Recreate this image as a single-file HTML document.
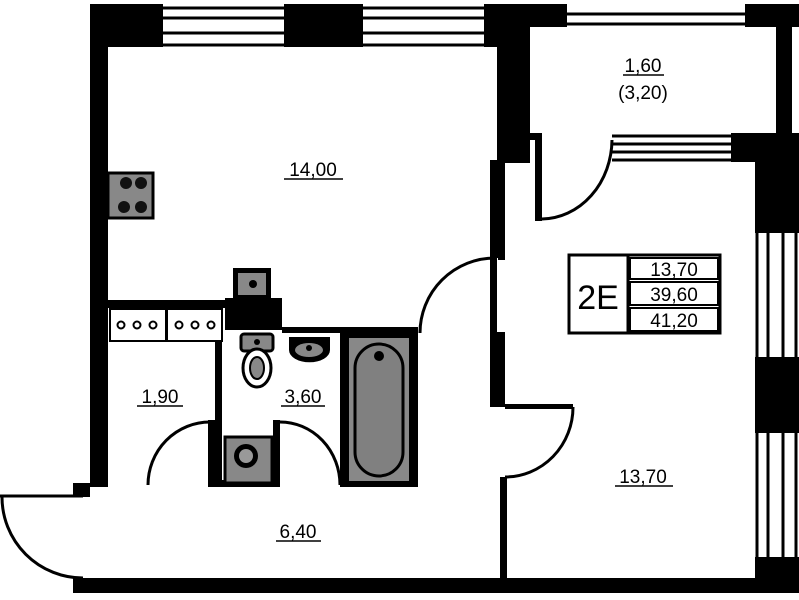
<!DOCTYPE html>
<html><head><meta charset="utf-8"><style>
html,body{margin:0;padding:0;background:#fff;}
svg{display:block;}
text{font-family:"Liberation Sans",sans-serif;fill:#000;}
</style></head><body>
<svg width="799" height="600" viewBox="0 0 799 600" xmlns="http://www.w3.org/2000/svg">
<rect width="799" height="600" fill="#fff"/>
<g fill="#000">
<rect x="90" y="4" width="73" height="43"/>
<rect x="284" y="4" width="79" height="43"/>
<rect x="484" y="4" width="83" height="23"/>
<rect x="484" y="4" width="14" height="43"/>
<rect x="497" y="15" width="33" height="148"/>
<rect x="498" y="140" width="7" height="120"/>
<rect x="490" y="160" width="15" height="98"/>
<rect x="535" y="134" width="7" height="87"/>
<rect x="497" y="133" width="45" height="7"/>
<rect x="90" y="4" width="18" height="483"/>
<rect x="73" y="483" width="17" height="14"/>
<rect x="490" y="258" width="7" height="74"/>
<rect x="490" y="332" width="15" height="75"/>
<rect x="505" y="404" width="68" height="5"/>
<rect x="500" y="477" width="7" height="103"/>
<rect x="73" y="578" width="726" height="15"/>
<rect x="745" y="4" width="54" height="23"/>
<rect x="776" y="27" width="16" height="108"/>
<rect x="731" y="133" width="68" height="29"/>
<rect x="755" y="140" width="44" height="93"/>
<rect x="755" y="357" width="44" height="76"/>
<rect x="755" y="557" width="44" height="36"/>
<rect x="108" y="300" width="117" height="8"/>
<rect x="225" y="298" width="57" height="32"/>
<rect x="282" y="327" width="136" height="6"/>
<rect x="215" y="330" width="7" height="92"/>
<rect x="208" y="420" width="14" height="67"/>
<rect x="208" y="480" width="72" height="7"/>
<rect x="273" y="420" width="7" height="67"/>
<rect x="340" y="330" width="78" height="157"/>
</g>
<g stroke="#000" stroke-width="3">
<line x1="163" y1="8" x2="284" y2="8"/><line x1="163" y1="18" x2="284" y2="18"/><line x1="163" y1="33" x2="284" y2="33"/><line x1="163" y1="45" x2="284" y2="45"/>
<line x1="363" y1="8" x2="484" y2="8"/><line x1="363" y1="18" x2="484" y2="18"/><line x1="363" y1="33" x2="484" y2="33"/><line x1="363" y1="45" x2="484" y2="45"/>
<line x1="567" y1="14" x2="745" y2="14"/><line x1="567" y1="24" x2="745" y2="24"/>
<line x1="612" y1="136" x2="731" y2="136"/><line x1="612" y1="144" x2="731" y2="144"/><line x1="612" y1="152" x2="731" y2="152"/><line x1="612" y1="160" x2="731" y2="160"/>
<line x1="757" y1="233" x2="757" y2="357"/><line x1="768" y1="233" x2="768" y2="357"/><line x1="783" y1="233" x2="783" y2="357"/><line x1="796" y1="233" x2="796" y2="357"/>
<line x1="757" y1="433" x2="757" y2="557"/><line x1="768" y1="433" x2="768" y2="557"/><line x1="783" y1="433" x2="783" y2="557"/><line x1="796" y1="433" x2="796" y2="557"/>
<line x1="0" y1="496" x2="83" y2="496"/>
</g>
<g fill="none" stroke="#000" stroke-width="3">
<path d="M612 140 A71 80 0 0 1 542 219"/>
<path d="M495 258 A75 75 0 0 0 420 333"/>
<path d="M573 407 A68 70 0 0 1 505 477"/>
<path d="M2 497 A81 81 0 0 0 83 578"/>
<path d="M148 485 A62 63 0 0 1 210 422"/>
<path d="M280 422 A60 63 0 0 1 340 485"/>
</g>
<rect x="108" y="173" width="45" height="45" fill="#888" stroke="#000" stroke-width="3"/>
<g fill="#111"><circle cx="126" cy="183" r="6"/><circle cx="141" cy="183" r="6"/><circle cx="124" cy="207" r="6"/><circle cx="141" cy="207" r="6"/></g>
<rect x="233" y="268" width="38" height="32" fill="#000"/>
<rect x="238" y="273" width="28" height="22" fill="#888"/>
<circle cx="253" cy="284" r="4" fill="#000"/>
<g fill="#fff" stroke="#000" stroke-width="2"><rect x="110" y="309" width="56" height="32"/><rect x="167" y="309" width="55" height="32"/></g>
<g fill="#fff" stroke="#000" stroke-width="2"><circle cx="121" cy="325" r="3.5"/><circle cx="137" cy="325" r="3.5"/><circle cx="153" cy="325" r="3.5"/><circle cx="179" cy="325" r="3.5"/><circle cx="195" cy="325" r="3.5"/><circle cx="211" cy="325" r="3.5"/></g>
<rect x="241" y="334" width="32" height="17" rx="3" fill="#888" stroke="#000" stroke-width="3"/>
<circle cx="257" cy="342" r="3" fill="#000"/>
<ellipse cx="257" cy="368" rx="14" ry="19" fill="#fff" stroke="#000" stroke-width="3"/>
<ellipse cx="257" cy="368" rx="7" ry="11" fill="#888" stroke="#000" stroke-width="2"/>
<path d="M289 337 H330 V350 A20 12 0 0 1 289 350 Z" fill="#000"/>
<ellipse cx="309" cy="350" rx="14" ry="7" fill="#888"/>
<circle cx="309" cy="348" r="3" fill="#000"/>
<rect x="225" y="437" width="47" height="46" fill="#888" stroke="#000" stroke-width="3"/>
<circle cx="246" cy="456" r="12" fill="#000"/><circle cx="246" cy="456" r="7" fill="#999"/>
<rect x="349" y="338" width="60" height="143" fill="#888"/>
<rect x="355" y="344" width="48" height="132" rx="24" fill="#808080" stroke="#000" stroke-width="3"/>
<circle cx="379" cy="356" r="5" fill="#000"/>
<rect x="569" y="255" width="151" height="78" fill="#fff" stroke="#000" stroke-width="3"/>
<line x1="628" y1="255" x2="628" y2="333" stroke="#000" stroke-width="3"/>
<rect x="630" y="258" width="88" height="21" fill="none" stroke="#000" stroke-width="2"/>
<rect x="630" y="282" width="88" height="23" fill="none" stroke="#000" stroke-width="2"/>
<rect x="630" y="308" width="88" height="23" fill="none" stroke="#000" stroke-width="2"/>
<text x="598" y="309" font-size="34" text-anchor="middle">2E</text>
<text x="674" y="276" font-size="19" text-anchor="middle">13,70</text>
<text x="674" y="301" font-size="19" text-anchor="middle">39,60</text>
<text x="674" y="327" font-size="19" text-anchor="middle">41,20</text>
<g font-size="19" text-anchor="middle">
<text x="313" y="176">14,00</text>
<text x="160" y="403">1,90</text>
<text x="303" y="403">3,60</text>
<text x="298" y="538">6,40</text>
<text x="643" y="483">13,70</text>
<text x="643" y="72">1,60</text>
</g>
<g stroke="#000" stroke-width="1.5">
<line x1="284" y1="179" x2="343" y2="179"/><line x1="137" y1="406" x2="183" y2="406"/><line x1="281" y1="406" x2="325" y2="406"/><line x1="276" y1="541" x2="321" y2="541"/><line x1="615" y1="486" x2="673" y2="486"/><line x1="623" y1="75" x2="664" y2="75"/>
</g>
<text x="643" y="99" font-size="19" text-anchor="middle">(3,20)</text>
</svg>
</body></html>
